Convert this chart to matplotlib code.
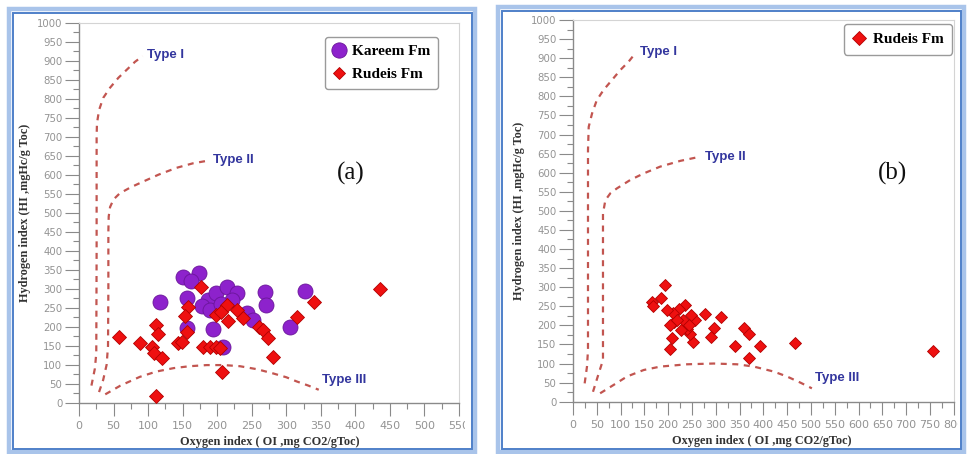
import matplotlib
matplotlib.use("Agg")
import matplotlib.pyplot as plt
from matplotlib.patches import Rectangle
from matplotlib.ticker import MultipleLocator
from matplotlib.lines import Line2D
from matplotlib.transforms import Bbox, TransformedBbox

# ---------------- data ----------------
# Panel (a): Kareem Fm samples (OI, HI)
kareem_oi = [151, 174, 162, 117, 156, 187, 199, 214, 229, 269, 271, 327, 305,
             156, 194, 209, 178, 190, 243, 252, 222, 205]
kareem_hi = [332, 342, 320, 266, 275, 270, 288, 305, 288, 292, 257, 294, 200,
             196, 193, 147, 255, 245, 235, 218, 270, 260]

# Panel (a): Rudeis Fm samples (OI, HI)
rudeis_a_oi = [435, 340, 316, 177, 158, 153, 156, 214, 228, 238, 199, 216, 206,
               260, 267, 274, 281, 207, 111, 58, 89, 111, 115, 106, 108, 120,
               143, 149, 180, 190, 199, 204]
rudeis_a_hi = [298, 266, 226, 304, 251, 228, 185, 257, 244, 222, 231, 215, 240,
               200, 191, 169, 121, 82, 18, 174, 156, 204, 181, 147, 131, 117,
               156, 160, 147, 147, 147, 143]

# Panel (b): Rudeis Fm samples (OI, HI)
rudeis_b_oi = [756, 467, 392, 370, 340, 359, 369, 312, 296, 289, 277, 253, 246,
               239, 257, 249, 235, 222, 232, 212, 203, 211, 197, 207, 203, 193,
               184, 167, 168, 226, 218, 244]
rudeis_b_hi = [134, 155, 147, 115, 145, 194, 178, 222, 192, 170, 231, 157, 177,
               190, 214, 228, 253, 242, 214, 210, 201, 232, 240, 166, 138, 305,
               272, 262, 252, 188, 214, 200]

# Kerogen type boundary curves, panel (a)
a_type1_x = [18, 23, 25, 25.5, 25.5, 26, 29, 35, 45, 57, 69, 81, 92]
a_type1_y = [45, 90, 130, 400, 700, 735, 770, 802, 829, 855, 876, 897, 912]
a_type2_x = [29, 35, 40, 42, 42.5, 42.5, 43, 45, 50, 59, 75, 93, 115, 141, 165, 190]
a_type2_y = [28, 60, 100, 150, 300, 450, 490, 515, 535, 551, 567, 582, 600, 618, 630, 638]
a_type3_x = [38, 60, 88, 112, 137, 160, 185, 210, 233, 258, 281, 300, 315, 332, 347]
a_type3_y = [22, 45, 68, 82, 91, 96, 99, 99, 96, 88, 77, 67, 56, 45, 34]

# Kerogen type boundary curves, panel (b)
b_type1_x = [24.5, 29.4, 31.5, 31.5, 33, 40, 50, 64.4, 82, 99.5, 117, 131]
b_type1_y = [48, 92, 135, 659, 720, 755, 790, 817, 843, 869, 891, 913]
b_type2_x = [42, 54, 63, 63, 68, 78.5, 92.5, 120.5, 148.5, 183.5, 225.6, 267.6]
b_type2_y = [26, 74, 109, 493, 528, 546, 559, 581, 598, 616, 631, 642]
b_type3_x = [57, 85.5, 113.5, 148.5, 183.5, 239.6, 295.6, 344.7, 380, 421.7, 449.7, 477.8, 502]
b_type3_y = [22, 44, 66, 83, 92, 98, 100, 98, 92, 79, 66, 50, 35]

# Type label anchors (left edge, vertical centre)
a_type_labels = [("Type I", 98, 915), ("Type II", 194, 640), ("Type III", 351, 61)]
b_type_labels = [("Type I", 141, 915), ("Type II", 278, 642), ("Type III", 509, 61)]

x_label = "Oxygen index ( OI ,mg CO2/gToc)"
y_label = "Hydrogen index (HI ,mgHc/g Toc)"

# ---------------- styling ----------------
W, H = 967, 454
fig = plt.figure(figsize=(W / 100, H / 100), dpi=100)
fig.patch.set_facecolor("white")

SERIF = ["Liberation Serif", "DejaVu Serif"]
SANS_B = ["Liberation Sans", "DejaVu Sans"]
CURVE = "#c25550"
TYPE_TXT = "#33369e"
PURPLE = "#8d22cc"
PURPLE_EDGE = "#6a1599"
RED = "#ee1010"
RED_EDGE = "#b20000"


def px_rect(x0, y0, x1, y1):
    return [x0 / W, 1 - y1 / H, (x1 - x0) / W, (y1 - y0) / H]


def style_axes(ax, xmax, clip_right_px):
    ax.set_xlim(0, xmax)
    ax.set_ylim(0, 1000)
    ax.xaxis.set_major_locator(MultipleLocator(50))
    ax.xaxis.set_minor_locator(MultipleLocator(25))
    ax.yaxis.set_major_locator(MultipleLocator(50))
    ax.yaxis.set_minor_locator(MultipleLocator(25))
    for side in ("left", "bottom"):
        ax.spines[side].set_color("#8a8a8a")
        ax.spines[side].set_linewidth(1.0)
    for side in ("top", "right"):
        ax.spines[side].set_color("#d4d4d4")
        ax.spines[side].set_linewidth(0.8)
    ax.tick_params(which="both", direction="out", color="#8a8a8a",
                   labelcolor="#939393", width=0.8)
    ax.tick_params(axis="y", which="major", length=10, pad=2, labelsize=7.3)
    ax.tick_params(axis="y", which="minor", length=4)
    ax.tick_params(axis="x", which="major", length=9, pad=4, labelsize=8)
    ax.tick_params(axis="x", which="minor", length=4)
    ax.set_xlabel(x_label, family=SERIF, fontweight="bold", fontsize=8.8,
                  color="#333333", va="center")
    ax.set_ylabel(y_label, family=SERIF, fontweight="bold", fontsize=8.8,
                  color="#333333", va="center")
    # tick labels are cut off where the panel border begins
    clip = TransformedBbox(Bbox.from_extents(0, 0, clip_right_px / W, 1),
                           fig.transFigure)
    for lbl in ax.get_xticklabels():
        lbl.set_clip_box(clip)
        lbl.set_clip_on(True)


def draw_curves(ax, curves, labels):
    for xs, ys in curves:
        ax.plot(xs, ys, color=CURVE, lw=1.6, ls=(0, (2.7, 2.5)),
                solid_capstyle="butt", zorder=1)
    for text, x, y in labels:
        ax.text(x, y, text, family=SANS_B, fontweight="bold", fontsize=9.5,
                color=TYPE_TXT, ha="left", va="center", zorder=2)


# ---------------- panel (a) ----------------
ax1 = fig.add_axes(px_rect(79, 22.7, 459, 402.7))
style_axes(ax1, 550, 465)
draw_curves(ax1, [(a_type1_x, a_type1_y), (a_type2_x, a_type2_y),
                  (a_type3_x, a_type3_y)], a_type_labels)
ax1.plot(kareem_oi, kareem_hi, ls="none", marker="o", ms=10.8,
         mfc=PURPLE, mec=PURPLE_EDGE, mew=0.6, zorder=3, label="Kareem Fm")
ax1.plot(rudeis_a_oi, rudeis_a_hi, ls="none", marker="D", ms=7.0,
         mfc=RED, mec=RED_EDGE, mew=0.6, zorder=4, label="Rudeis Fm")
ax1.xaxis.set_label_coords(0.501, -0.1026)
ax1.yaxis.set_label_coords(-0.142, 0.5)
ax1.text(0.716, 0.604, "(a)", transform=ax1.transAxes, family=SERIF,
         fontsize=18, ha="center", va="center", color="#111111")
h1 = [Line2D([], [], ls="none", marker="o", ms=11, mfc=PURPLE, mec=PURPLE_EDGE, mew=0.6),
      Line2D([], [], ls="none", marker="D", ms=6.5, mfc=RED, mec=RED_EDGE, mew=0.6)]
leg1 = ax1.legend(h1, ["Kareem Fm", "Rudeis Fm"], loc="upper left",
                  bbox_to_anchor=(0.647, 0.963), borderaxespad=0,
                  prop={"family": SERIF, "weight": "bold", "size": 11},
                  handlelength=0.8, handletextpad=0.5, borderpad=0.5,
                  labelspacing=0.6, framealpha=1, fancybox=True,
                  edgecolor="#9a9a9a")
leg1.get_frame().set_linewidth(1.0)

# ---------------- panel (b) ----------------
ax2 = fig.add_axes(px_rect(573, 20, 953.7, 401.7))
style_axes(ax2, 800, 958)
draw_curves(ax2, [(b_type1_x, b_type1_y), (b_type2_x, b_type2_y),
                  (b_type3_x, b_type3_y)], b_type_labels)
ax2.plot(rudeis_b_oi, rudeis_b_hi, ls="none", marker="D", ms=6.0,
         mfc=RED, mec=RED_EDGE, mew=0.6, zorder=4, label="Rudeis Fm")
ax2.xaxis.set_label_coords(0.4965, -0.102)
ax2.yaxis.set_label_coords(-0.1418, 0.5)
ax2.text(0.8405, 0.599, "(b)", transform=ax2.transAxes, family=SERIF,
         fontsize=18, ha="center", va="center", color="#111111")
h2 = [Line2D([], [], ls="none", marker="D", ms=7, mfc=RED, mec=RED_EDGE, mew=0.6)]
leg2 = ax2.legend(h2, ["Rudeis Fm"], loc="upper left",
                  bbox_to_anchor=(0.7127, 0.9895), borderaxespad=0,
                  prop={"family": SERIF, "weight": "bold", "size": 11},
                  handlelength=0.8, handletextpad=0.5, borderpad=0.55,
                  framealpha=1, fancybox=True, edgecolor="#9a9a9a")
leg2.get_frame().set_linewidth(1.0)


# ---------------- panel frames ----------------
def panel_frame(x0, y0, x1, y1):
    outer = Rectangle((x0 / W, 1 - y1 / H), (x1 - x0) / W, (y1 - y0) / H,
                      transform=fig.transFigure, fill=False,
                      edgecolor="#a9c4ea", lw=3.2, zorder=10)
    inset = 3.5
    inner = Rectangle(((x0 + inset) / W, 1 - (y1 - inset) / H),
                      (x1 - x0 - 2 * inset) / W, (y1 - y0 - 2 * inset) / H,
                      transform=fig.transFigure, fill=False,
                      edgecolor="#4f80c9", lw=1.4, zorder=11)
    fig.add_artist(outer)
    fig.add_artist(inner)


panel_frame(9, 9, 475, 452)
panel_frame(498, 7, 964, 452)

fig.savefig("out.png", dpi=100, facecolor="white")
